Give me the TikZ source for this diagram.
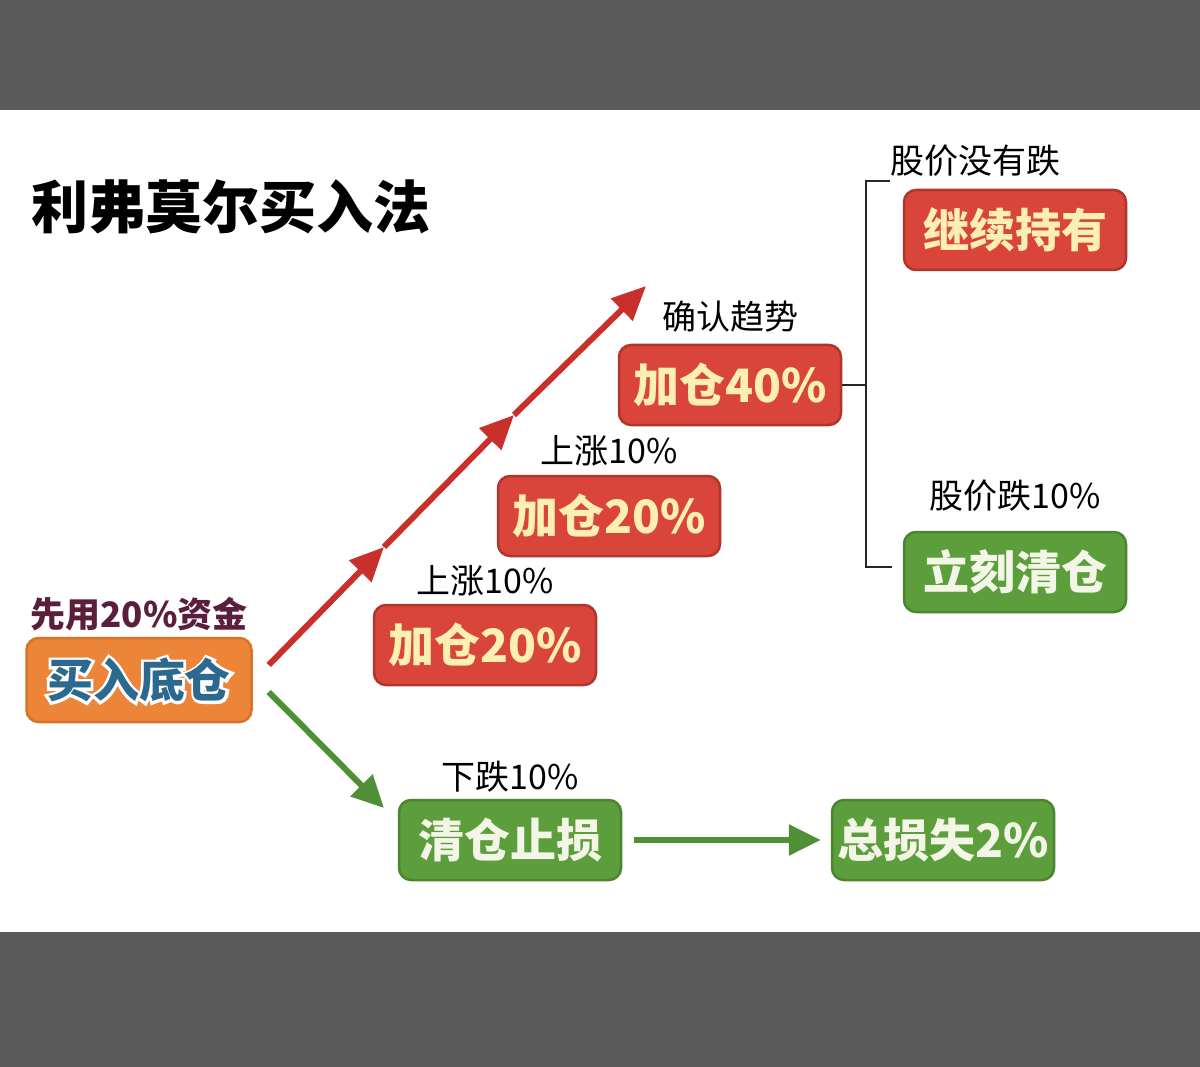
\documentclass[tikz,border=0pt]{standalone}
\usepackage{fontspec}
\setmainfont{Noto Sans CJK SC}
\newfontfamily\halofont[FakeBold=12]{Noto Sans CJK SC}
\usetikzlibrary{positioning,arrows.meta}

\definecolor{bandgray}{HTML}{5A5A5A}
\definecolor{boxred}{HTML}{D9453A}
\definecolor{boxredline}{HTML}{B0352B}
\definecolor{redtext}{HTML}{FBEFB2}
\definecolor{boxgreen}{HTML}{5C9E3C}
\definecolor{boxgreenline}{HTML}{4A8530}
\definecolor{greentext}{HTML}{F3F6E6}
\definecolor{boxorange}{HTML}{EC8538}
\definecolor{boxorangeline}{HTML}{D8732A}
\definecolor{basetext}{HTML}{2C698F}
\definecolor{arrowred}{HTML}{C9302C}
\definecolor{arrowgreen}{HTML}{4F8F35}
\definecolor{fundtext}{HTML}{5C1E3D}

\newcommand\halo[1]{\rlap{\halofont\bfseries\textcolor{white}{#1}}#1}

\tikzset{
  box/.style={rounded corners=12pt, minimum width=222pt, minimum height=80pt,
    line width=2.5pt, inner sep=0pt, font=\fontsize{46}{50}\selectfont\bfseries},
  redbox/.style={box, fill=boxred, draw=boxredline, text=redtext},
  greenbox/.style={box, fill=boxgreen, draw=boxgreenline, text=greentext},
  basebox/.style={box, minimum width=225pt, minimum height=84pt,
    fill=boxorange, draw=boxorangeline, text=basetext},
  note/.style={inner sep=0pt, text=black, font=\fontsize{34}{36}\selectfont},
  headline/.style={inner sep=0pt, text=black, font=\fontsize{57}{60}\selectfont\bfseries},
  redarrow/.style={draw=arrowred, line width=6pt, -{Triangle[length=34pt,width=30pt]}},
  greenarrow/.style={draw=arrowgreen, line width=6pt, -{Triangle[length=32pt,width=30pt]}},
  bracket/.style={draw=black!85, line width=2.5pt, line join=miter},
}

\begin{document}
\begin{tikzpicture}[x=1pt, y=-1pt]
    \useasboundingbox (0,0) rectangle (1200,1067);
    \fill[bandgray] (0,0) rectangle (1200,110);
    \fill[white] (0,110) rectangle (1200,932);
    \fill[bandgray] (0,932) rectangle (1200,1067);

    \node [headline] (title) at (231,207) {利弗莫尔买入法};

    \node [basebox] (base) at (139,680) {\halo{买入底仓}};
    \node [note, above=6pt of base, text=fundtext, font=\fontsize{35}{37}\selectfont\bfseries] (fund) {先用20\%资金};

    \node [redbox] (add1) at (485,645) {加仓20\%};
    \node [note, above=7pt of add1] (rise1) {上涨10\%};
    \node [redbox] (add2) at (609,516) {加仓20\%};
    \node [note, above=8pt of add2] (rise2) {上涨10\%};
    \node [redbox] (add3) at (730,385) {加仓40\%};
    \node [note, above=11pt of add3] (trend) {确认趋势};

    \node [redbox] (hold) at (1015,230) {继续持有};
    \node [note, above=12pt of hold, xshift=-40pt] (nofall) {股价没有跌};
    \node [greenbox] (clear) at (1015,572) {立刻清仓};
    \node [note, above=19pt of clear] (fall) {股价跌10\%};

    \node [greenbox] (stop) at (510,840) {清仓止损};
    \node [note, above=6pt of stop] (drop) {下跌10\%};
    \node [greenbox] (loss) at (943,840) {总损失2\%};

    \coordinate (r0) at ([xshift=16pt, yshift=15pt]base.east);
    \coordinate (r1) at (384,547);
    \coordinate (r2) at (514,415);
    \coordinate (r3) at (646,286);
    \coordinate (g0) at ([xshift=16pt, yshift=-12pt]base.east);
    \coordinate (g1) at (384,808);
    \coordinate (bt) at (866,181);
    \coordinate (bb) at (866,567);

    \draw [redarrow] (r0) -- (r1);
    \draw [redarrow] (r1) -- (r2);
    \draw [redarrow] (r2) -- (r3);
    \draw [greenarrow] (g0) -- (g1);
    \draw [greenarrow, shorten <=12pt, shorten >=10pt] (stop) -- (loss);

    \draw [bracket] (add3.east) -- (add3.east -| bt);
    \draw [bracket] ([xshift=24pt]bt) -- (bt) -- (bb) -- ([xshift=26pt]bb);
\end{tikzpicture}
\end{document}
